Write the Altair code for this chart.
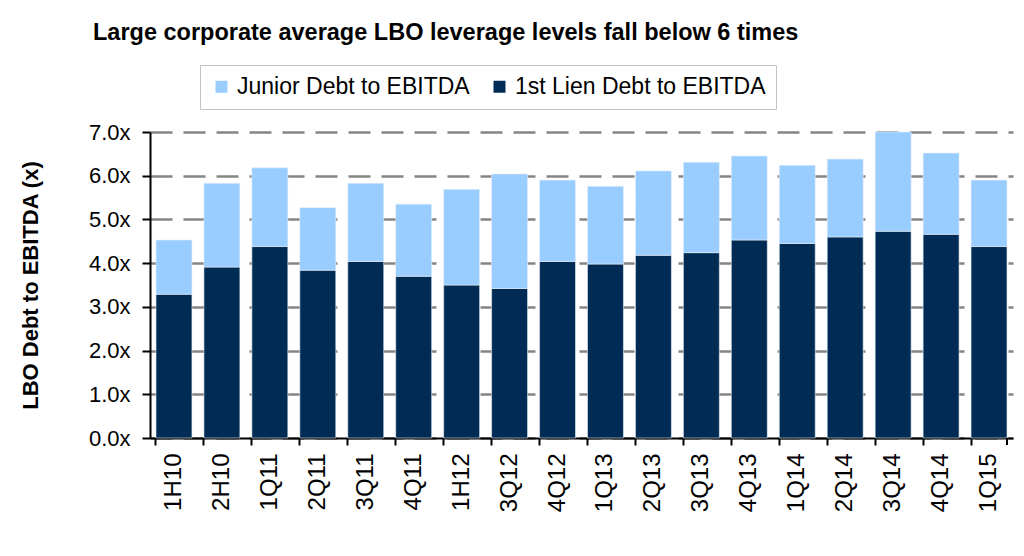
import altair as alt
import pandas as pd

categories = ["1H10", "2H10", "1Q11", "2Q11", "3Q11", "4Q11", "1H12", "3Q12", "4Q12",
              "1Q13", "2Q13", "3Q13", "4Q13", "1Q14", "2Q14", "3Q14", "4Q14", "1Q15"]
first_lien = [3.29, 3.91, 4.38, 3.84, 4.04, 3.70, 3.50, 3.42, 4.04,
              3.98, 4.18, 4.24, 4.53, 4.45, 4.60, 4.73, 4.66, 4.38]
junior = [1.24, 1.92, 1.80, 1.43, 1.79, 1.65, 2.19, 2.62, 1.86,
          1.78, 1.93, 2.07, 1.92, 1.79, 1.78, 2.27, 1.86, 1.52]

series_names = ["Junior Debt to EBITDA", "1st Lien Debt to EBITDA"]
series_colors = ["#99CCFF", "#002B55"]

rows = []
for i, c in enumerate(categories):
    rows.append({"period": c, "series": series_names[1], "value": first_lien[i], "order": 0})
    rows.append({"period": c, "series": series_names[0], "value": junior[i], "order": 1})
df = pd.DataFrame(rows)

FONT = "Liberation Sans"

bars = alt.Chart(df).mark_bar(stroke="#E8F0F8", strokeWidth=0.6).encode(
    x=alt.X("period:N", sort=categories, title=None,
            scale=alt.Scale(paddingInner=0.25, paddingOuter=0.125),
            axis=alt.Axis(labelAngle=-90, labelFontSize=24, labelFont=FONT, labelColor="#000",
                          labelPadding=8, bandPosition=0, tickColor="#000", tickWidth=2,
                          tickSize=7, domainColor="#000", domainWidth=2, grid=False,
                          labelAlign="right", labelBaseline="middle")),
    y=alt.Y("value:Q", stack="zero", title="LBO  Debt to EBITDA (x)",
            scale=alt.Scale(domain=[0, 7], nice=False),
            axis=alt.Axis(values=[0, 1, 2, 3, 4, 5, 6, 7],
                          labelExpr="format(datum.value, '.1f') + 'x'",
                          labelFontSize=22, labelFont=FONT, labelColor="#000", labelPadding=12,
                          tickColor="#000", tickWidth=2, tickSize=8,
                          domainColor="#000", domainWidth=2,
                          grid=True, gridColor="#858585", gridWidth=2.5, gridDash=[22, 11],
                          titleFontSize=22, titleFont=FONT, titleFontWeight="bold",
                          titleColor="#000", titlePadding=46)),
    color=alt.Color("series:N", sort=series_names,
                    scale=alt.Scale(domain=series_names, range=series_colors),
                    legend=alt.Legend(title=None, orient="none", direction="horizontal",
                                      legendX=50, legendY=-67,
                                      symbolType="square", symbolSize=144,
                                      symbolStrokeWidth=0, labelFontSize=23, labelFont=FONT,
                                      labelColor="#000", columnPadding=18, labelOffset=4,
                                      labelLimit=400,
                                      strokeColor="#C4C4C4",
                                      padding=10, fillColor="#FFFFFF")),
    order=alt.Order("order:Q"),
)

end_tick = alt.Chart(pd.DataFrame({"period": [categories[-1]]})).mark_rule(
    color="#000", strokeWidth=2).encode(
    x=alt.X("period:N", sort=categories, bandPosition=1),
    y=alt.value(306), y2=alt.value(313),
)

chart = alt.layer(bars, end_tick).properties(
    width=863, height=306,
    title=alt.TitleParams("Large corporate average LBO leverage levels fall below 6 times",
                          font=FONT, fontSize=23.5, fontWeight="bold", color="#000",
                          anchor="start", frame="group", dx=-57, offset=20),
    autosize=alt.AutoSizeParams(type="none"),
    padding={"left": 142, "top": 124, "right": 3, "bottom": 100},
).configure_view(stroke=None)

chart.save("out.html", embed_options={"renderer": "svg", "actions": False})
